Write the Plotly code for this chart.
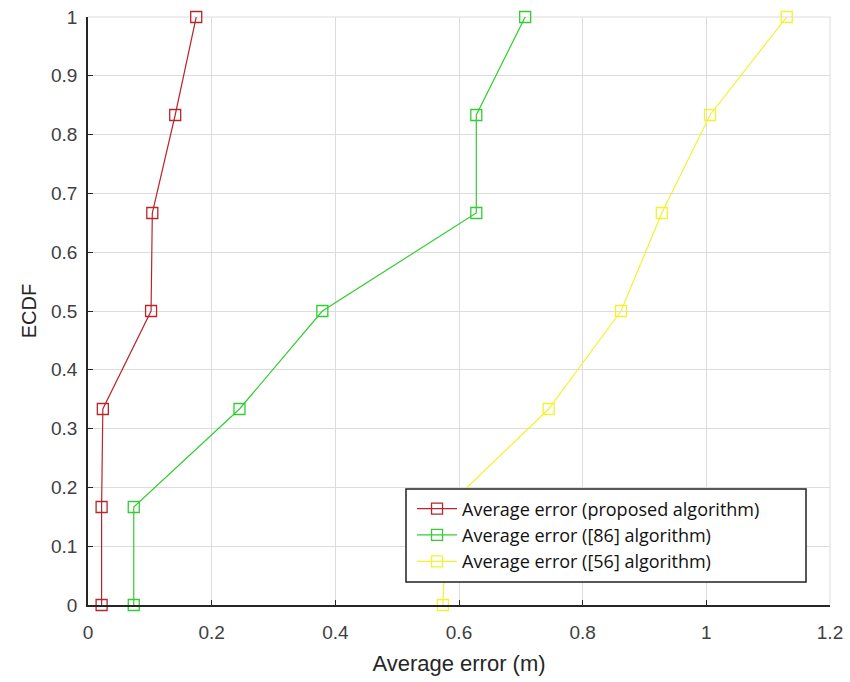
import plotly.graph_objects as go

ecdf = [0, 1/6, 1/3, 1/2, 2/3, 5/6, 1]
err_proposed = [0.022, 0.022, 0.024, 0.102, 0.104, 0.141, 0.175]
err_86 = [0.074, 0.074, 0.245, 0.379, 0.628, 0.628, 0.707]
err_56 = [0.574, 0.58, 0.745, 0.862, 0.928, 1.006, 1.13]

names = ["Average error (proposed algorithm)",
         "Average error ([86] algorithm)",
         "Average error ([56] algorithm)"]
colors = ["#b8262b", "#33cc33", "#f2f230"]
series = [err_proposed, err_86, err_56]

fig = go.Figure()
for x, n, c in zip(series, names, colors):
    fig.add_trace(go.Scatter(
        x=x, y=ecdf, name=n, mode="lines+markers",
        line=dict(color=c, width=1.2),
        marker=dict(symbol="square-open", size=11, color=c, line=dict(width=1.3, color=c)),
        cliponaxis=False,
    ))

tickfont = dict(family="Liberation Sans, Arial, sans-serif", size=19, color="#404040")
fig.update_layout(
    width=850, height=682,
    margin=dict(l=88, r=20, t=17, b=77),
    paper_bgcolor="white", plot_bgcolor="white",
    showlegend=True,
    legend=dict(
        x=0.4367, y=0.195, xanchor="left", yanchor="top",
        bgcolor="rgba(0,0,0,0)", borderwidth=0,
        font=dict(family="Open Sans, sans-serif", size=18, color="#111111"),
        itemwidth=40,
    ),
    xaxis=dict(
        range=[0, 1.2], tickvals=[0, 0.2, 0.4, 0.6, 0.8, 1, 1.2],
        ticktext=["0", "0.2", "0.4", "0.6", "0.8", "1", "1.2"],
        showgrid=True, gridcolor="#dcdcdc", gridwidth=1,
        showline=True, linecolor="#262626", linewidth=1.5,
        ticks="inside", ticklen=5, tickcolor="#262626",
        tickfont=tickfont, zeroline=False, mirror=False,
        automargin=False, ticklabelstandoff=9,
        title=dict(text="Average error (m)", standoff=14,
                   font=dict(family="Liberation Sans, Arial, sans-serif", size=22, color="#262626")),
    ),
    yaxis=dict(
        range=[0, 1], tickvals=[0, 0.1, 0.2, 0.3, 0.4, 0.5, 0.6, 0.7, 0.8, 0.9, 1],
        ticktext=["0", "0.1", "0.2", "0.3", "0.4", "0.5", "0.6", "0.7", "0.8", "0.9", "1"],
        showgrid=True, gridcolor="#dcdcdc", gridwidth=1,
        showline=True, linecolor="#262626", linewidth=1.5,
        ticks="inside", ticklen=5, tickcolor="#262626",
        tickfont=tickfont, zeroline=False,
        automargin=False, ticklabelstandoff=5,
        title=dict(text="ECDF", standoff=9,
                   font=dict(family="Liberation Sans, Arial, sans-serif", size=20, color="#262626")),
    ),
)
fig.add_shape(type="line", xref="paper", yref="paper", x0=0, x1=1, y0=1, y1=1,
              line=dict(color="#dcdcdc", width=1), layer="below")
fig.add_shape(type="line", xref="paper", yref="paper", x0=1, x1=1, y0=0, y1=1,
              line=dict(color="#dcdcdc", width=1), layer="below")
# legend frame (white box with dark border) behind the legend entries
fig.add_shape(type="rect", xref="paper", yref="paper",
              x0=(406 - 88) / 742, x1=(806 - 88) / 742,
              y0=(605 - 582) / 588, y1=(605 - 489) / 588,
              fillcolor="white", line=dict(color="#222222", width=1.5), layer="above")

fig.write_html("out.html")
